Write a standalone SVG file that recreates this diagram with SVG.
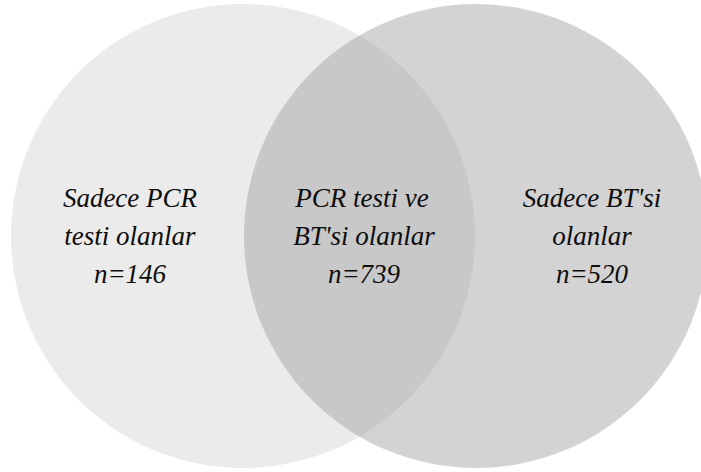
<svg xmlns="http://www.w3.org/2000/svg" width="701" height="472" viewBox="0 0 701 472">
  <style>
    .lbl { font-family: "Liberation Serif", "DejaVu Serif", serif; font-style: italic; font-size: 27px; fill: #0d0d0d; text-anchor: middle; }
  </style>
  <rect width="701" height="472" fill="#ffffff"/>
  <g id="set-pcr">
    <circle cx="243" cy="236" r="232" fill="#ebebeb"/>
  </g>
  <g id="set-bt">
    <circle cx="476" cy="236" r="232" fill="#9d9d9d" fill-opacity="0.45"/>
  </g>
  <g id="label-pcr-only">
    <text class="lbl" x="130" y="207">Sadece PCR</text>
    <text class="lbl" x="130" y="245">testi olanlar</text>
    <text class="lbl" x="130" y="283">n=146</text>
  </g>
  <g id="label-both">
    <text class="lbl" x="362" y="207">PCR testi ve</text>
    <text class="lbl" x="364" y="245">BT'si olanlar</text>
    <text class="lbl" x="364" y="283">n=739</text>
  </g>
  <g id="label-bt-only">
    <text class="lbl" x="592" y="207">Sadece BT'si</text>
    <text class="lbl" x="592" y="245">olanlar</text>
    <text class="lbl" x="592" y="283">n=520</text>
  </g>
  <g id="connectors"/>
</svg>
